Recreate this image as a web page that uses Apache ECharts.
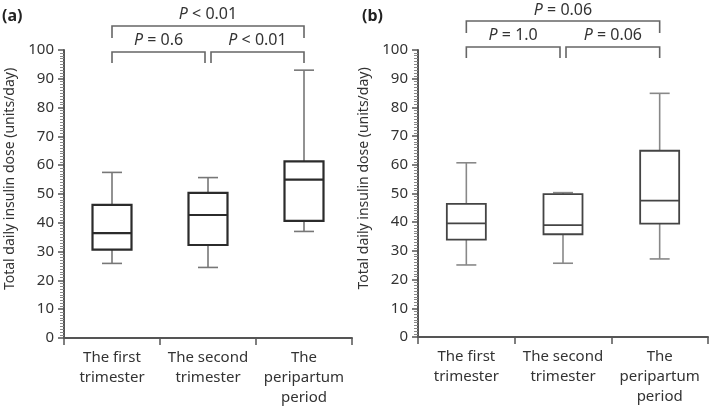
<!DOCTYPE html>
<html>
<head>
<meta charset="utf-8">
<script src="https://cdn.jsdelivr.net/npm/echarts@6/dist/echarts.min.js"></script>
<style>
  html, body { margin: 0; padding: 0; background: #fff; }
  #chart { width: 709px; height: 408px; }
</style>
</head>
<body>
<div id="chart"></div>
<script>
// categories and box stats [min, q1, median, q3, max]
const categories = ['The first\ntrimester', 'The second\ntrimester', 'The\nperipartum\nperiod']
const boxA = [
  [25.9, 30.7, 36.4, 46.2, 57.5],
  [24.5, 32.3, 42.7, 50.4, 55.7],
  [37.0, 40.7, 55.0, 61.3, 93.0]
]
const boxB = [
  [25.1, 33.9, 39.6, 46.4, 60.7],
  [25.7, 35.8, 39.0, 49.8, 50.3],
  [27.2, 39.5, 47.5, 64.9, 84.9]
]
const yTicks = { min: 0, max: 100, interval: 10 }
// p-value brackets: [from, to, level(0 lower / 1 upper), text]
const bracketsA = [[0, 1, 0, '= 0.6'], [1, 2, 0, '< 0.01'], [0, 2, 1, '< 0.01']]
const bracketsB = [[0, 1, 0, '= 1.0'], [1, 2, 0, '= 0.06'], [0, 2, 1, '= 0.06']]

const font = '"Noto Sans", "Open Sans", sans-serif'
const chart = echarts.init(document.getElementById('chart'))

function boxRender(boxColor, boxWidth, whiskerColor) {
  return function(params, api) {
    const idx = api.value(0)
    const lo = api.coord([idx, api.value(1)])
    const q1 = api.coord([idx, api.value(2)])
    const md = api.coord([idx, api.value(3)])
    const q3 = api.coord([idx, api.value(4)])
    const hi = api.coord([idx, api.value(5)])
    const x = lo[0]
    const bw = 39
    const cw = 20
    const wStyle = { stroke: whiskerColor, lineWidth: 1.6 }
    const bStyle = { stroke: boxColor, lineWidth: boxWidth, fill: '#fff' }
    return {
      type: 'group',
      children: [
        { type: 'line', shape: { x1: x, y1: hi[1], x2: x, y2: q3[1] }, style: wStyle },
        { type: 'line', shape: { x1: x, y1: lo[1], x2: x, y2: q1[1] }, style: wStyle },
        { type: 'line', shape: { x1: x - cw / 2, y1: hi[1], x2: x + cw / 2, y2: hi[1] }, style: wStyle },
        { type: 'line', shape: { x1: x - cw / 2, y1: lo[1], x2: x + cw / 2, y2: lo[1] }, style: wStyle },
        { type: 'rect', shape: { x: x - bw / 2, y: q3[1], width: bw, height: q1[1] - q3[1] }, style: bStyle },
        { type: 'line', shape: { x1: x - bw / 2, y1: md[1], x2: x + bw / 2, y2: md[1] }, style: { stroke: boxColor, lineWidth: boxWidth } }
      ]
    }
  }
}

function xAxisOpt(gridIndex) {
  return {
    type: 'category',
    gridIndex: gridIndex,
    data: categories,
    boundaryGap: true,
    axisLine: { lineStyle: { color: '#555', width: 2 } },
    axisTick: { show: true, length: 7, lineStyle: { color: '#555', width: 1.5 } },
    axisLabel: { interval: 0, color: '#333', fontSize: 15, lineHeight: 20, margin: 10, fontFamily: font }
  }
}

function yAxisOpt(gridIndex) {
  return {
    type: 'value',
    gridIndex: gridIndex,
    min: yTicks.min,
    max: yTicks.max,
    interval: yTicks.interval,
    name: 'Total daily insulin dose (units/day)',
    nameLocation: 'middle',
    nameGap: 47,
    nameTextStyle: { color: '#333', fontSize: 14, fontFamily: font, padding: [0, 0, 0, 30] },
    axisLine: { show: true, lineStyle: { color: '#555', width: 2 } },
    axisTick: { show: true, length: 6, lineStyle: { color: '#555', width: 1.5 } },
    minorTick: { show: true, splitNumber: 10, length: 4, lineStyle: { color: '#888', width: 1 } },
    splitLine: { show: false },
    minorSplitLine: { show: false },
    axisLabel: { color: '#333', fontSize: 15, margin: 10, fontFamily: font }
  }
}

chart.setOption({
  backgroundColor: '#fff',
  animation: false,
  grid: [
    { left: 64, top: 50, width: 288, height: 288 },
    { left: 418, top: 50, width: 290, height: 287 }
  ],
  xAxis: [xAxisOpt(0), xAxisOpt(1)],
  yAxis: [yAxisOpt(0), yAxisOpt(1)],
  series: [
    {
      type: 'custom',
      xAxisIndex: 0,
      yAxisIndex: 0,
      renderItem: boxRender('#2b2b2b', 2.2, '#777'),
      encode: { x: 0, y: [1, 2, 3, 4, 5] },
      data: boxA.map((b, i) => [i].concat(b))
    },
    {
      type: 'custom',
      xAxisIndex: 1,
      yAxisIndex: 1,
      renderItem: boxRender('#444', 1.8, '#888'),
      encode: { x: 0, y: [1, 2, 3, 4, 5] },
      data: boxB.map((b, i) => [i].concat(b))
    }
  ]
})

// brackets placed above the plots, x from the category axis
function bracketGraphics(gridIndex, list, levels) {
  const out = []
  list.forEach(([from, to, level, text]) => {
    let x1 = chart.convertToPixel({ gridIndex: gridIndex }, [from, 0])[0]
    let x2 = chart.convertToPixel({ gridIndex: gridIndex }, [to, 0])[0]
    if (level === 0 && from === 0) x2 -= 3
    if (level === 0 && from === 1) x1 += 3
    const lv = levels[level]
    out.push({
      type: 'polyline',
      shape: { points: [[x1, lv.drop], [x1, lv.y], [x2, lv.y], [x2, lv.drop]] },
      style: { stroke: '#666', lineWidth: 1.6, fill: null }
    })
    out.push({
      type: 'text',
      x: (x1 + x2) / 2,
      y: lv.text,
      style: {
        text: '{i|P} ' + text,
        align: 'center',
        verticalAlign: 'middle',
        fill: '#333',
        font: '16px ' + font,
        rich: { i: { fontStyle: 'italic', fontSize: 16, fontFamily: font, fill: '#333' } }
      }
    })
  })
  return out
}

const graphics = []
  .concat(bracketGraphics(0, bracketsA, [{ y: 52, drop: 63, text: 40 }, { y: 26, drop: 38, text: 14 }]))
  .concat(bracketGraphics(1, bracketsB, [{ y: 47, drop: 58, text: 35 }, { y: 21, drop: 33, text: 10 }]))
graphics.push({ type: 'text', x: 2, y: 16, style: { text: '(a)', font: 'bold 16px ' + font, fill: '#222', verticalAlign: 'middle' } })
graphics.push({ type: 'text', x: 362, y: 16, style: { text: '(b)', font: 'bold 16px ' + font, fill: '#222', verticalAlign: 'middle' } })

chart.setOption({ graphic: graphics })
</script>
</body>
</html>
